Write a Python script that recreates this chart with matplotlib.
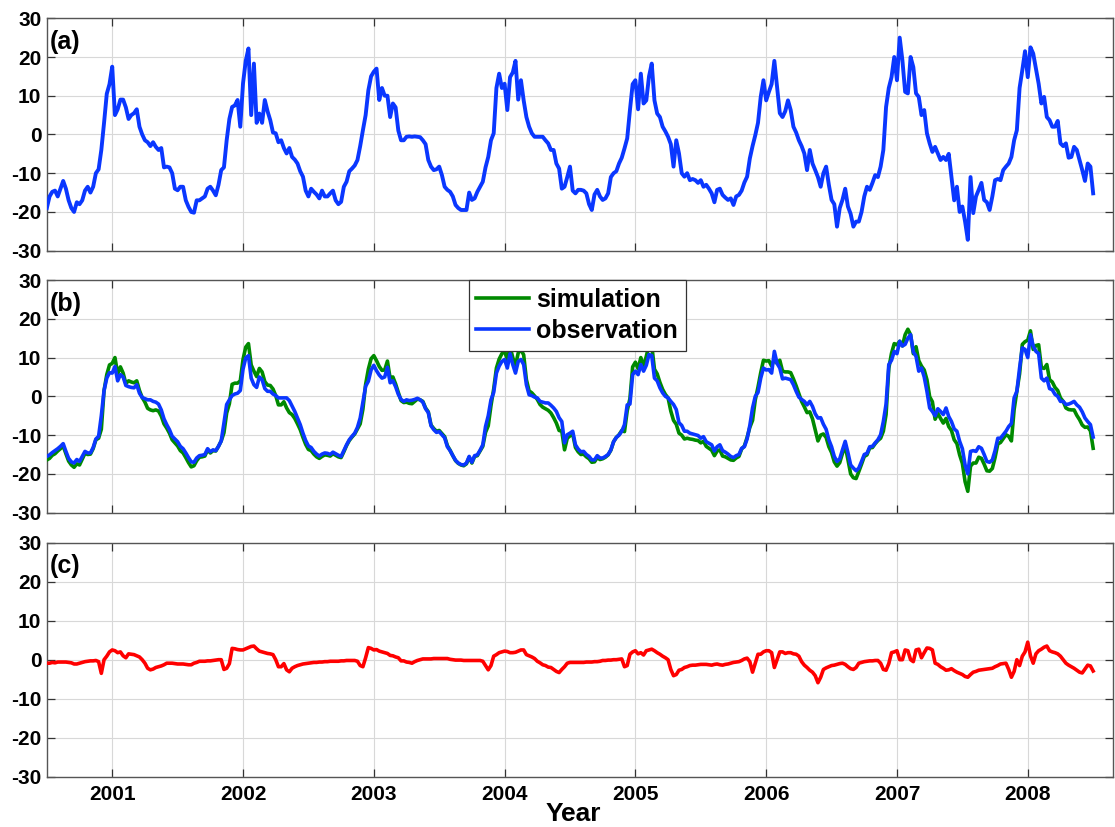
import numpy as np
import matplotlib
matplotlib.use("Agg")
import matplotlib.pyplot as plt

plt.rcParams['font.family'] = ['Liberation Sans', 'DejaVu Sans']
plt.rcParams['font.weight'] = 'bold'
plt.rcParams['axes.unicode_minus'] = False

# samples every ~7.6 days from July 2000 to July 2008
start_year = 2000.5
per_year = 48

# (a) observed series
obs_a = [
    -19, -16, -14.8, -14.5, -16, -14, -12, -14, -17, -19, -20, -17.5,
    -18, -17, -14.5, -13.5, -15, -13.5, -10, -9, -4, 3, 10.5, 13,
    17.5, 5, 6.5, 9, 9, 7, 4, 5, 5.5, 6.5, 2, 0,
    -1.5, -2, -3, -2, -3.2, -4, -3.5, -8.5, -8.3, -8.5, -10, -14,
    -14.4, -13.5, -13.5, -17, -18.7, -20, -20.2, -17, -17, -16.5, -16, -14,
    -13.5, -14.5, -15.7, -13, -9.2, -8.5, -1.5, 4, 7.1, 7.5, 8.9, 2,
    13.2, 19, 22.2, 5, 18.3, 3, 5.4, 3, 8.9, 6, 3.7, 0.5,
    0.3, -2, -1.5, -3.5, -4.9, -3.5, -5.8, -6.5, -7.5, -9.5, -10.9, -14.5,
    -16, -14, -14.8, -15.5, -16.5, -14.5, -16, -16, -15.2, -14.5, -17, -18,
    -17.4, -13.5, -12.2, -9.5, -8.8, -8, -6.6, -3, 1.1, 5, 11.4, 15,
    16.2, 17, 8.9, 12, 10, 10, 4.5, 8, 7, 1, -1.5, -1.5,
    -0.6, -0.5, -0.6, -0.5, -0.6, -0.7, -1.5, -2.5, -6.6, -8.3, -9.2, -9,
    -8.3, -10.5, -13.5, -14.3, -14.8, -16, -18.2, -19, -19.5, -19.5, -19.5, -15,
    -16.9, -16.5, -14.8, -13.5, -12.2, -8.5, -5.8, -1.5, 0.3, 12, 15.7, 12,
    13.1, 6.3, 14.8, 16, 19, 9, 14, 8.8, 4.5, 2, 0.3, -0.6,
    -0.6, -0.6, -0.6, -1.5, -2.3, -4, -4, -7.5, -8.8, -14, -13.5, -11,
    -8.3, -14.5, -15.2, -14.3, -14.3, -14.5, -15.2, -18, -19.5, -15.5, -14.3, -16,
    -16.9, -16.5, -15.2, -11, -10, -9.5, -7.5, -6, -3.6, -1, 6.3, 13,
    14, 6.5, 15.7, 8, 8.8, 15, 18.3, 8.8, 5.4, 4.5, 2, 0.8,
    -0.6, -2.5, -8.3, -1.5, -4.9, -10, -10.9, -10, -11.8, -11.5, -11.8, -12.5,
    -11.8, -13.5, -13, -14, -15.2, -17.5, -14.3, -14, -15.6, -16.3, -16.9, -16.5,
    -18.2, -16, -15.6, -14.5, -12.4, -10.9, -6.2, -3, -0.2, 3, 9.7, 14,
    8.8, 11, 13, 19, 12.3, 5.5, 4.5, 6, 8.8, 6.3, 2, 0.5,
    -1.5, -3, -4.9, -9.2, -4, -7.5, -9.2, -11, -13.5, -10, -8.3, -13,
    -16.9, -18, -23.8, -19, -16.9, -14, -18.6, -20.5, -23.8, -22.5, -22.5, -20,
    -16, -13.5, -14.3, -12.5, -10.5, -11, -8.3, -4, 7.1, 12, 14.8, 20,
    14, 25, 19.1, 11, 10.6, 20, 17.4, 10.6, 9.7, 5, 6.3, 0.3,
    -2.3, -4.5, -3.2, -4.9, -6.6, -5.8, -6.6, -5, -10.9, -17, -13.5, -20,
    -18.6, -22.5, -27.2, -11, -20.3, -16, -14.3, -12.5, -16.9, -17.5, -19.5, -16,
    -11.8, -11.5, -11.8, -9.2, -8.3, -7.5, -5.8, -1.5, 1.1, 12, 16.6, 21.5,
    14.8, 22.5, 20.9, 17, 13.1, 8, 9.7, 4.5, 3.7, 2, 2, 3.5,
    -2.3, -3, -2.3, -6, -5.8, -3.2, -4, -6.6, -9.2, -12, -7.5, -8.3,
    -15.2,
]

# (b) observed series
obs_b = [
    -15.5, -15.1, -14.5, -14, -13.5, -12.9, -12.2, -14.2, -16, -16.9, -17.2, -16.3,
    -16.8, -15.5, -14.2, -14.6, -14.6, -13.2, -11, -10.3, -5, 1.5, 4.7, 6.1,
    6, 7.7, 4, 5.6, 5, 2.8, 2.5, 2.3, 2.2, 3, 0.8, -0.3,
    -0.6, -0.9, -0.9, -1.3, -1.5, -2, -3.5, -5.8, -7.3, -8.6, -10.3, -11,
    -11.7, -12.9, -13.5, -14.6, -15.8, -16.9, -17, -15.9, -15.3, -15.2, -15, -13.5,
    -14.3, -13.8, -14, -12.9, -11.5, -6.9, -2.1, -0.9, 0.2, 0.6, 0.8, 1.5,
    7, 9.9, 10.5, 4.7, 3, 2.3, 5, 4.3, 2, 1.3, 1.3, 0.6,
    0.2, -0.4, -0.4, -0.4, -0.4, -1.1, -2.5, -3.9, -5.6, -7.3, -9.5, -11.4,
    -12.8, -13.2, -14.2, -14.9, -15.4, -14.9, -14.6, -14.7, -15, -14.4, -14.8, -15.2,
    -15.5, -14, -12.5, -11.2, -10.3, -9.5, -8, -5.6, -1.5, 2.6, 3.9, 6.8,
    8, 6.6, 5.5, 4.7, 5, 7.5, 3.5, 4, 2.5, 0.5, -0.8, -1.3,
    -0.9, -1.1, -1, -0.8, -0.5, -0.9, -1.5, -3.2, -4.2, -7.6, -8.6, -9.3,
    -9.1, -9.9, -10.7, -13, -14, -15.3, -16.5, -17.2, -17.6, -17.7, -17.2, -15.5,
    -17, -15.3, -15.1, -13.9, -12.5, -7.8, -5, -0.9, 1, 6, 7.8, 9,
    9.5, 7.3, 11, 8.2, 6, 9, 9.5, 8.2, 3, 0.4, 0.2, -0.2,
    -0.4, -1.3, -1.5, -1.7, -1.7, -2.3, -3, -3.9, -5.5, -6.5, -12, -9.9,
    -9.5, -9, -12.5, -13.6, -14.3, -14.2, -15, -15.5, -16.4, -16.4, -15.3, -15.9,
    -15.9, -15.5, -15, -13.8, -11.7, -10.6, -10, -9, -7.3, -2.2, -2, 5.6,
    6.5, 5.6, 8.2, 6.5, 8, 10.8, 10.5, 4.7, 4, 2.2, 0.9, 0,
    -0.4, -1.3, -2.1, -3.4, -6.8, -7.5, -9, -9, -9.5, -9.7, -9.9, -10.1,
    -10.8, -10.4, -11.7, -12.1, -12.5, -14.1, -13, -12.5, -14, -14.4, -14.9, -15.5,
    -15.8, -15.3, -15, -13.4, -13, -11, -7.5, -3, 0, 1, 4.7, 7.3,
    6.8, 6.9, 6, 11.6, 8.5, 7.3, 4.5, 4.7, 4.5, 4.3, 3, 1.3,
    -0.2, -0.8, -1.3, -2.2, -1.3, -2.6, -4.5, -5.6, -5.5, -7.2, -8.5, -11.2,
    -13, -15.5, -16.8, -16.1, -13.8, -11.6, -14.5, -17.7, -18.5, -19.2, -18.5, -16.8,
    -15, -14.7, -13, -12.9, -12, -11.2, -9.9, -6.5, -2, 8.2, 9.3, 11.6,
    11, 14.2, 13, 13.4, 15, 15.9, 11.5, 10.3, 6.5, 7.3, 5, 1.3,
    -3, -3.9, -5, -3.2, -3.9, -4.7, -3, -5.2, -6.5, -8.4, -9, -11.6,
    -13.5, -17.7, -20, -14.2, -14, -14.2, -13, -13.4, -15, -16.8, -17, -16.4,
    -14, -10.8, -10.8, -9.9, -9, -7.8, -7, -0.4, 1.3, 7.3, 12.5, 12.1,
    10, 15.9, 13, 11.6, 11, 4.7, 4, 4.7, 2, 1.7, 0.5, 0,
    -1.3, -1.3, -2.1, -2, -1.7, -1.3, -2.2, -2.8, -4, -5.6, -6.5, -7.3,
    -10.5,
]

# (c) simulation minus observation
diff_c = [
    -0.9, -0.9, -0.7, -0.8, -0.6, -0.6, -0.6, -0.6, -0.7, -0.8, -1.1, -1.1,
    -0.9, -0.7, -0.5, -0.4, -0.3, -0.3, -0.2, -0.5, -3.5, 0, 0.9, 2,
    2.5, 2.3, 1.8, 2, 1.0, 0.5, 1.5, 1.4, 1.3, 1, 0.7, 0,
    -0.9, -2.2, -2.6, -2.4, -2, -1.8, -1.6, -1.3, -0.9, -0.9, -0.9, -1,
    -1.1, -1.1, -1.1, -1.2, -1.3, -1.3, -0.9, -0.7, -0.4, -0.4, -0.4, -0.3,
    -0.3, -0.2, -0.1, 0, 0, -2.5, -2.2, -1, 2.9, 2.8, 2.6, 2.5,
    2.5, 2.8, 3.1, 3.4, 3.5, 2.8, 2.2, 2, 1.8, 1.6, 1.5, 1.3,
    0, -1.8, -1.8, -1, -2.6, -3.1, -2.2, -1.8, -1.5, -1.3, -1.1, -1,
    -0.9, -0.8, -0.7, -0.7, -0.6, -0.6, -0.5, -0.5, -0.4, -0.4, -0.4, -0.4,
    -0.3, -0.3, -0.2, -0.2, -0.2, -0.2, -0.4, -1.5, -1.8, 0.5, 3.1, 2.9,
    2.5, 2.6, 2.2, 2, 1.8, 1.6, 1.1, 1, 0.7, 0.5, -0.3, -0.3,
    -0.6, -0.7, -0.9, -0.5, -0.2, 0, 0.2, 0.2, 0.2, 0.2, 0.3, 0.3,
    0.3, 0.3, 0.3, 0.3, 0.1, 0, -0.1, -0.1, -0.1, -0.2, -0.2, -0.2,
    -0.2, -0.2, -0.2, -0.2, -0.4, -1.5, -2.6, -1.5, 0.9, 1.3, 1.8, 2,
    2.2, 2.1, 1.8, 1.8, 1.9, 2.2, 2.5, 2.5, 1.3, 1, 0.7, 0.3,
    -0.4, -0.8, -1.3, -1.5, -1.9, -2, -2.5, -3, -3.3, -2.5, -1.8, -0.9,
    -0.7, -0.7, -0.7, -0.7, -0.7, -0.7, -0.6, -0.6, -0.6, -0.5, -0.5, -0.4,
    -0.2, -0.2, -0.1, -0.1, 0, 0, 0.1, 0.2, -1.8, -1.5, 1.4, 2,
    2.3, 1.5, 1.8, 1.2, 2.3, 2.5, 2.7, 2.3, 1.8, 1.4, 0.9, 0.5,
    0, -2.5, -4.1, -3.8, -2.7, -2.5, -2, -1.8, -1.5, -1.4, -1.4, -1.3,
    -1.2, -1.2, -1.2, -1.3, -1.4, -1.2, -1.1, -1.3, -1.4, -1.2, -1.1, -0.9,
    -0.7, -0.6, -0.5, -0.2, 0.2, 0.4, -0.5, -3.2, -0.9, 1.4, 1.4, 2,
    2.3, 2.3, 1.8, -2, 0, 2, 2, 1.6, 1.8, 1.8, 1.5, 1.4,
    0.9, -0.5, -1.4, -2, -2.7, -3.2, -4.1, -5.9, -4.5, -2.5, -2.1, -1.8,
    -1.5, -1.4, -1.2, -1, -0.9, -1.2, -1.8, -2.3, -2.5, -2, -0.9, -0.7,
    -0.5, -0.4, -0.3, -0.3, -0.2, -0.2, -0.9, -2.5, -2.7, -1, 1.8, 2,
    2.3, 0, 0, 2.5, 2.3, 0, -0.5, 2.5, 2.7, 0.5, 1.8, 3,
    2.9, 2.5, -0.9, -1.2, -1.8, -2.2, -2.7, -2.6, -2.3, -2.8, -3.2, -3.5,
    -3.8, -4.3, -4.5, -3.8, -3.2, -3, -2.7, -2.6, -2.5, -2.4, -2.3, -2.2,
    -1.8, -1.5, -1.1, -1, -0.9, -2.5, -4.5, -3, 0, -1.5, 0.9, 2,
    4.5, 1.0, -0.9, 1.5, 2.3, 2.7, 3.2, 3.5, 2.3, 2, 1.8, 1.5,
    0.9, 0, -0.9, -1.4, -1.8, -2.2, -2.7, -3.2, -3.4, -2.4, -1.4, -1.6,
    -2.9,
]

year_ticks = [2001, 2002, 2003, 2004, 2005, 2006, 2007, 2008]
value_ticks = [-30, -20, -10, 0, 10, 20, 30]
panel_tags = ['(a)', '(b)', '(c)']

t = start_year + np.arange(len(obs_a)) / per_year
sim_b = np.array(obs_b) + np.array(diff_c)

blue = '#0a37ff'
green = '#008a00'
red = '#ff0000'

fig = plt.figure(figsize=(11.15, 8.27), dpi=100)
left, width = 0.042, 0.956
ax_a = fig.add_axes([left, 0.6969, width, 0.2810])
ax_b = fig.add_axes([left, 0.3801, width, 0.2813])
ax_c = fig.add_axes([left, 0.0608, width, 0.2830])
axes = [ax_a, ax_b, ax_c]

ax_a.plot(t, obs_a, color=blue, lw=2.8, zorder=3)
l_sim, = ax_b.plot(t, sim_b, color=green, lw=2.6, zorder=3, label='simulation')
l_obs, = ax_b.plot(t, obs_b, color=blue, lw=2.6, zorder=4, label='observation')
ax_c.plot(t, diff_c, color=red, lw=2.6, zorder=3)

for ax, tag in zip(axes, panel_tags):
    ax.set_xlim(2000.5, 2008.65)
    ax.set_ylim(-30, 30)
    ax.set_xticks(year_ticks)
    ax.set_yticks(value_ticks)
    ax.grid(True, color='#d8d8d8', lw=0.8, zorder=0)
    ax.set_axisbelow(True)
    ax.tick_params(direction='in', top=True, right=True, length=5.5, width=0.9,
                   color='#333333', labelsize=15, pad=4)
    for sp in ax.spines.values():
        sp.set_color('#555555')
        sp.set_linewidth(1.0)
    for lbl in ax.get_yticklabels():
        lbl.set_fontweight('bold')
    ax.text(0.003, 0.95, tag, transform=ax.transAxes, fontsize=18,
            fontweight='bold', va='top', ha='left', zorder=5)

ax_a.tick_params(labelbottom=False)
ax_b.tick_params(labelbottom=False)
ax_c.tick_params(axis='x', pad=6)
for lbl in ax_c.get_xticklabels():
    lbl.set_fontweight('bold')
ax_c.set_xlabel('Year', fontsize=19, fontweight='bold')
ax_c.xaxis.set_label_coords(0.494, -0.108)

leg = ax_b.legend(handles=[l_sim, l_obs], loc='upper left',
                  bbox_to_anchor=(0.396, 1.0), borderaxespad=0,
                  prop={'size': 18, 'weight': 'bold'}, fancybox=False,
                  framealpha=1, edgecolor='#333333', handlelength=2.1,
                  handletextpad=0.3, labelspacing=0.3, borderpad=0.3)
leg.get_frame().set_linewidth(0.9)
leg.set_zorder(6)

fig.savefig('out.png', dpi=100)
